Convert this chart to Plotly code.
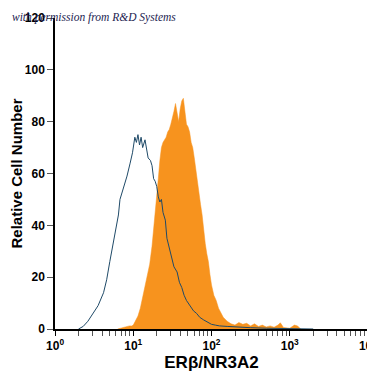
import plotly.graph_objects as go

# Isotype control (blue outline): log10 intensity and relative cell number
ctrl_log = [0.30, 0.36, 0.42, 0.49, 0.55, 0.62, 0.66, 0.70, 0.74, 0.78, 0.81, 0.83, 0.87, 0.92,
            0.96, 0.99, 1.02, 1.04, 1.06, 1.08, 1.10, 1.12, 1.15, 1.17, 1.19, 1.22, 1.24, 1.26,
            1.28, 1.30, 1.32, 1.34, 1.36, 1.38, 1.41, 1.43, 1.46, 1.49, 1.52, 1.56, 1.59, 1.62,
            1.65, 1.68, 1.72, 1.77, 1.81, 1.85, 1.90, 1.94, 2.00, 2.05, 2.10, 2.20, 2.30, 2.40,
            2.50, 2.70, 3.00, 3.30]
ctrl_cnt = [0, 1, 3, 6, 9, 14, 19, 26, 33, 39, 44, 50, 54, 59,
            64, 68, 74, 72, 75, 71, 74, 70, 73, 69, 66, 65, 63, 58,
            57, 55, 51, 49, 50, 45, 42, 35, 31, 27, 24, 22, 18, 16,
            13, 11, 9, 7, 6, 4.5, 3.5, 2.8, 1.8, 1.5, 1.2, 1.0, 0.8, 0.7,
            0.5, 0.3, 0.2, 0]

# ERbeta/NR3A2 stained (orange filled)
stain_log = [0.80, 0.85, 0.90, 0.95, 0.98, 1.00, 1.03, 1.06, 1.09, 1.12, 1.15, 1.18, 1.21, 1.24,
             1.27, 1.30, 1.32, 1.34, 1.36, 1.38, 1.40, 1.42, 1.44, 1.46, 1.48, 1.50, 1.52, 1.54,
             1.56, 1.58, 1.60, 1.62, 1.64, 1.66, 1.68, 1.70, 1.72, 1.74, 1.76, 1.78, 1.80, 1.82,
             1.84, 1.86, 1.88, 1.90, 1.92, 1.94, 1.96, 1.98, 2.00, 2.03, 2.06, 2.09, 2.12, 2.15,
             2.20, 2.25, 2.30, 2.35, 2.40, 2.45, 2.50, 2.55, 2.60, 2.65, 2.70, 2.75, 2.80, 2.85,
             2.88, 2.92, 3.00, 3.06, 3.10, 3.14]
stain_cnt = [0, 0.5, 0.8, 1.2, 1.2, 1.5, 3, 5, 8, 12, 16, 20, 25, 32,
             41, 50, 58, 65, 70, 72, 73, 74, 76, 77, 79, 81, 84, 87,
             83, 80, 85, 88, 89, 83, 79, 78, 76, 72, 70, 66, 61, 56,
             52, 48, 44, 38, 33, 29, 26, 21, 17, 13, 11, 8, 6, 4.5,
             3, 2, 1.5, 2.5, 1.8, 2.2, 1.2, 2.0, 1.0, 1.5, 0.8, 1.2, 0.7, 1.5,
             2.4, 0.6, 0.3, 1.5, 1.2, 0]

x_tickvals = [1, 10, 100, 1000, 10000]
x_ticktext = ["10<sup>0</sup>", "10<sup>1</sup>", "10<sup>2</sup>", "10<sup>3</sup>", "10<sup>4</sup>"]
y_tickvals = [0, 20, 40, 60, 80, 100, 120]

minor_vals = [m * d for d in [1, 10, 100, 1000] for m in range(2, 10)]

FONT = "Liberation Sans Narrow, Arial Narrow, Liberation Sans, sans-serif"

fig = go.Figure()
fig.add_trace(go.Scatter(
    x=[10 ** v for v in stain_log], y=stain_cnt, mode="lines",
    line=dict(color="#F7931E", width=0.5), fill="tozeroy", fillcolor="#F7931E",
    hoverinfo="skip", showlegend=False))
fig.add_trace(go.Scatter(
    x=[10 ** v for v in ctrl_log], y=ctrl_cnt, mode="lines",
    line=dict(color="#1f4a68", width=1), hoverinfo="skip", showlegend=False))

fig.update_layout(
    width=367, height=367,
    margin=dict(l=47, r=7, t=10, b=46),
    paper_bgcolor="white", plot_bgcolor="white",
    font=dict(family=FONT, color="black", size=12, weight="bold"),
    xaxis=dict(
        type="log", range=[-0.0005, 4.0005], showgrid=False, zeroline=False, automargin=False,
        showline=True, linecolor="black", linewidth=1.5,
        ticks="outside", ticklen=5, tickwidth=1, tickcolor="black",
        tickmode="array", tickvals=x_tickvals, ticktext=x_ticktext,
        ticklabeloverflow="allow",
        tickfont=dict(family=FONT, size=12, weight="bold"),
        minor=dict(ticks="outside", ticklen=5, tickwidth=1, tickcolor="#555555",
                   tickmode="array", tickvals=minor_vals, showgrid=False),
        title=dict(text="ERβ/NR3A2", font=dict(family=FONT, size=17, weight="bold"), standoff=4),
    ),
    yaxis=dict(
        range=[0, 120], showgrid=False, zeroline=False, automargin=False,
        showline=True, linecolor="black", linewidth=1.5,
        ticks="outside", ticklen=6, tickwidth=1, tickcolor="#555555",
        tickmode="array", tickvals=y_tickvals,
        ticklabeloverflow="allow",
        tickfont=dict(family=FONT, size=12, weight="bold"),
        title=dict(text="Relative Cell Number", font=dict(family=FONT, size=15, weight="bold"), standoff=2),
    ),
    annotations=[dict(
        text="<i>with permission from R&amp;D Systems</i>",
        xref="paper", yref="paper", x=-0.144, y=1.003, xanchor="left", yanchor="middle",
        showarrow=False, font=dict(family="Liberation Serif, DejaVu Serif, serif", size=11.5,
                                   color="#1c1c50", weight="normal"))],
)

fig.write_html("out.html")
